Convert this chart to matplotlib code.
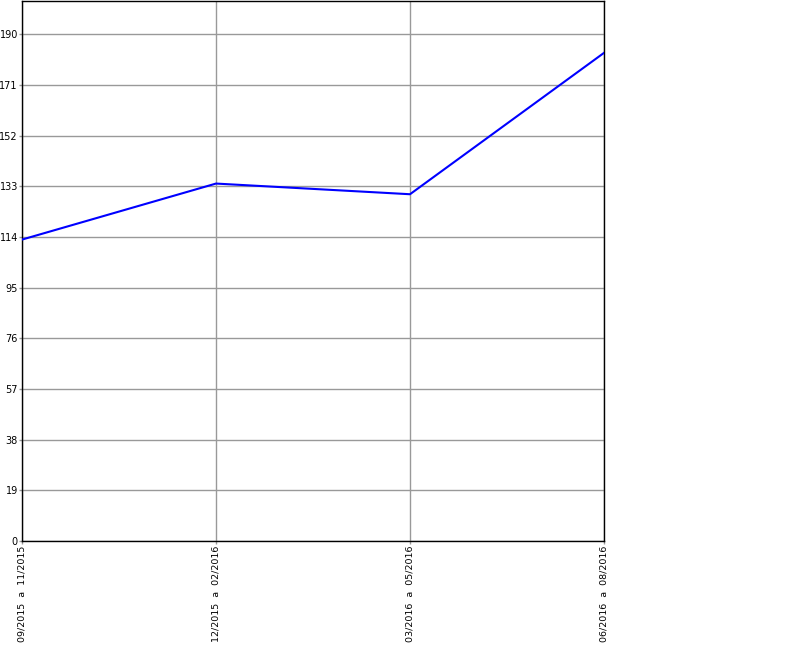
import matplotlib
matplotlib.use('Agg')
import matplotlib.pyplot as plt

# data
periods = ['09/2015  a  11/2015', '12/2015  a  02/2016',
           '03/2016  a  05/2016', '06/2016  a  08/2016']
values = [113, 134, 130, 183]
yticks = [0, 19, 38, 57, 76, 95, 114, 133, 152, 171, 190]

fig = plt.figure(figsize=(8, 6.5), dpi=100)
ax = fig.add_axes([0.0275, 0.1677, 0.7275, 0.831])

x = list(range(len(periods)))
ax.plot(x, values, color='#0000ff', linewidth=1.5, zorder=3)

ax.set_xlim(0, len(periods) - 1)
ax.set_ylim(0, 202.5)
ax.set_xticks(x)
ax.set_xticklabels(periods, rotation=90, fontsize=6.8)
ax.set_yticks(yticks)
ax.set_yticklabels([str(v) for v in yticks], fontsize=7)
ax.grid(True, color='#999999', linewidth=1)
ax.tick_params(length=2, width=1, color='#999999', pad=1)
for s in ax.spines.values():
    s.set_color('black')
    s.set_linewidth(1)

fig.savefig('out.png', dpi=100)
